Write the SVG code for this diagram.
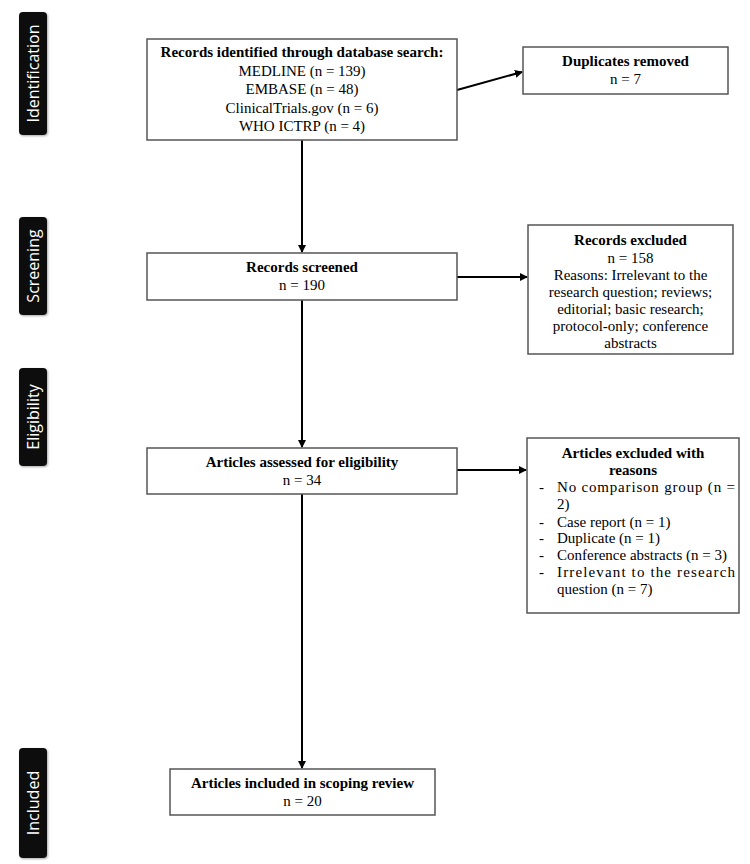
<svg xmlns="http://www.w3.org/2000/svg" width="750" height="864" viewBox="0 0 750 864">
<defs>
<style>
.box{fill:#fff;stroke:#555;stroke-width:1.5}
.stage{fill:#111;stroke:none}
.stxt{font-family:"Open Sans",sans-serif;font-size:16px;fill:#fff;text-anchor:middle}
.t{font-family:"Liberation Serif",serif;font-size:15px;fill:#000;text-anchor:middle}
.b{font-weight:bold}
.l{text-anchor:start}
.c{stroke:#000;stroke-width:2;fill:none}
</style>
<marker id="ah" markerWidth="8" markerHeight="8" refX="7" refY="4" orient="auto" markerUnits="userSpaceOnUse">
<path d="M0,0 L8,4 L0,8 Z" fill="#000"/>
</marker>
<filter id="sh" x="-30%" y="-10%" width="160%" height="120%">
<feDropShadow dx="1" dy="1" stdDeviation="1.2" flood-color="#000" flood-opacity="0.35"/>
</filter>
</defs>
<rect width="750" height="864" fill="#fff"/>

<g id="stage-identification">
<rect class="stage" x="19" y="12" width="28" height="123" rx="4" filter="url(#sh)"/>
<text class="stxt" transform="translate(39,73.5) rotate(-90)">Identification</text>
</g>
<g id="stage-screening">
<rect class="stage" x="19" y="217" width="28" height="98" rx="4" filter="url(#sh)"/>
<text class="stxt" transform="translate(39,266) rotate(-90)">Screening</text>
</g>
<g id="stage-eligibility">
<rect class="stage" x="19" y="368" width="28" height="98" rx="4" filter="url(#sh)"/>
<text class="stxt" transform="translate(39,417) rotate(-90)">Eligibility</text>
</g>
<g id="stage-included">
<rect class="stage" x="19" y="748" width="28" height="110" rx="4" filter="url(#sh)"/>
<text class="stxt" transform="translate(39,803) rotate(-90)">Included</text>
</g>

<g id="connectors">
<line class="c" x1="302" y1="140" x2="302" y2="252" marker-end="url(#ah)"/>
<line class="c" x1="302" y1="300" x2="302" y2="447" marker-end="url(#ah)"/>
<line class="c" x1="302" y1="494" x2="302" y2="768" marker-end="url(#ah)"/>
<line class="c" x1="457" y1="90" x2="522" y2="72" marker-end="url(#ah)"/>
<line class="c" x1="457" y1="277" x2="527" y2="277" marker-end="url(#ah)"/>
<line class="c" x1="457" y1="470" x2="526" y2="470" marker-end="url(#ah)"/>
</g>

<g id="node-identified">
<rect class="box" x="147" y="39" width="310" height="101"/>
<text class="t b" x="302" y="57">Records identified through database search:</text>
<text class="t" x="302" y="76">MEDLINE (n = 139)</text>
<text class="t" x="302" y="94">EMBASE (n = 48)</text>
<text class="t" x="302" y="113">ClinicalTrials.gov (n = 6)</text>
<text class="t" x="302" y="131">WHO ICTRP (n = 4)</text>
</g>

<g id="node-duplicates">
<rect class="box" x="523" y="47" width="205" height="47"/>
<text class="t b" x="625.5" y="66">Duplicates removed</text>
<text class="t" x="625.5" y="84">n = 7</text>
</g>

<g id="node-screened">
<rect class="box" x="147" y="253" width="310" height="47"/>
<text class="t b" x="302" y="272">Records screened</text>
<text class="t" x="302" y="290">n = 190</text>
</g>

<g id="node-records-excluded">
<rect class="box" x="528" y="225" width="205" height="129"/>
<text class="t b" x="630.5" y="245">Records excluded</text>
<text class="t" x="630.5" y="263">n = 158</text>
<text class="t" x="630.5" y="280">Reasons: Irrelevant to the</text>
<text class="t" x="630.5" y="297">research question; reviews;</text>
<text class="t" x="630.5" y="314">editorial; basic research;</text>
<text class="t" x="630.5" y="331">protocol-only; conference</text>
<text class="t" x="630.5" y="348">abstracts</text>
</g>

<g id="node-assessed">
<rect class="box" x="147" y="448" width="310" height="46"/>
<text class="t b" x="302" y="467">Articles assessed for eligibility</text>
<text class="t" x="302" y="485">n = 34</text>
</g>

<g id="node-articles-excluded">
<rect class="box" x="527" y="438" width="212" height="175"/>
<text class="t b" x="633" y="458">Articles excluded with</text>
<text class="t b" x="633" y="475">reasons</text>
<text class="t l" x="539" y="492">-</text>
<text class="t l" x="557" y="492" textLength="178" lengthAdjust="spacing">No comparison group (n =</text>
<text class="t l" x="557" y="509">2)</text>
<text class="t l" x="539" y="527">-</text>
<text class="t l" x="557" y="527">Case report (n = 1)</text>
<text class="t l" x="539" y="543">-</text>
<text class="t l" x="557" y="543">Duplicate (n = 1)</text>
<text class="t l" x="539" y="560">-</text>
<text class="t l" x="557" y="560">Conference abstracts (n = 3)</text>
<text class="t l" x="539" y="577">-</text>
<text class="t l" x="557" y="577" textLength="178" lengthAdjust="spacing">Irrelevant to the research</text>
<text class="t l" x="557" y="594">question (n = 7)</text>
</g>

<g id="node-included">
<rect class="box" x="170" y="769" width="265" height="46"/>
<text class="t b" x="302.5" y="788">Articles included in scoping review</text>
<text class="t" x="302.5" y="806">n = 20</text>
</g>
</svg>
